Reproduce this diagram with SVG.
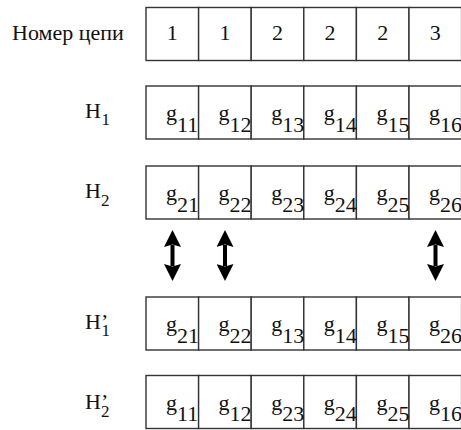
<svg xmlns="http://www.w3.org/2000/svg" width="461" height="430" viewBox="0 0 461 430">
<style>
.cell{fill:#fff;stroke:#333;stroke-width:1.4}
text{font-family:"Liberation Serif","Times New Roman",serif;font-size:22px;fill:#111}
.c{text-anchor:middle}
.sub{font-size:17px}
.arr{stroke:#000;stroke-width:4;fill:none}
</style>
<defs>
<marker id="ah" markerUnits="userSpaceOnUse" viewBox="0 0 17 17" markerWidth="17" markerHeight="17" refX="2" refY="8.5" orient="auto-start-reverse">
<path d="M0,0 L17,8.5 L0,17 L2.5,8.5 z" fill="#000"/>
</marker>
<g id="cells">
<rect class="cell" x="146" y="0" width="52.6" height="53"/>
<rect class="cell" x="198.6" y="0" width="52.6" height="53"/>
<rect class="cell" x="251.2" y="0" width="52.6" height="53"/>
<rect class="cell" x="303.8" y="0" width="52.6" height="53"/>
<rect class="cell" x="356.4" y="0" width="52.6" height="53"/>
<rect class="cell" x="409" y="0" width="52.6" height="53"/>
</g>
</defs>

<g id="row-chain">
<text x="12" y="39.5">Номер цепи</text>
<use href="#cells" y="7.5"/>
<text class="c" x="172.3" y="39.5">1</text>
<text class="c" x="224.9" y="39.5">1</text>
<text class="c" x="277.5" y="39.5">2</text>
<text class="c" x="330.1" y="39.5">2</text>
<text class="c" x="382.7" y="39.5">2</text>
<text class="c" x="435.3" y="39.5">3</text>
</g>

<g id="row-H1">
<text x="85" y="118.3">H<tspan class="sub" x="101.5" y="125.3">1</tspan></text>
<use href="#cells" y="86"/>
<text x="166" y="120.3">g<tspan dy="11.4">11</tspan></text>
<text x="218.6" y="120.3">g<tspan dy="11.4">12</tspan></text>
<text x="271.2" y="120.3">g<tspan dy="11.4">13</tspan></text>
<text x="323.8" y="120.3">g<tspan dy="11.4">14</tspan></text>
<text x="376.4" y="120.3">g<tspan dy="11.4">15</tspan></text>
<text x="429" y="120.3">g<tspan dy="11.4">16</tspan></text>
</g>

<g id="row-H2">
<text x="85" y="198.3">H<tspan class="sub" x="101" y="205.5">2</tspan></text>
<use href="#cells" y="166"/>
<text x="166" y="200.3">g<tspan dy="11.4">21</tspan></text>
<text x="218.6" y="200.3">g<tspan dy="11.4">22</tspan></text>
<text x="271.2" y="200.3">g<tspan dy="11.4">23</tspan></text>
<text x="323.8" y="200.3">g<tspan dy="11.4">24</tspan></text>
<text x="376.4" y="200.3">g<tspan dy="11.4">25</tspan></text>
<text x="429" y="200.3">g<tspan dy="11.4">26</tspan></text>
</g>

<g id="connectors">
<line class="arr" x1="172.5" y1="245" x2="172.5" y2="266" marker-start="url(#ah)" marker-end="url(#ah)"/>
<line class="arr" x1="225" y1="245" x2="225" y2="266" marker-start="url(#ah)" marker-end="url(#ah)"/>
<line class="arr" x1="435.5" y1="245" x2="435.5" y2="266" marker-start="url(#ah)" marker-end="url(#ah)"/>
</g>

<g id="row-H1p">
<text x="85" y="329.3">H<tspan x="101" y="329.3">’</tspan><tspan class="sub" x="101.5" y="336.3">1</tspan></text>
<use href="#cells" y="297"/>
<text x="166" y="331.3">g<tspan dy="11.4">21</tspan></text>
<text x="218.6" y="331.3">g<tspan dy="11.4">22</tspan></text>
<text x="271.2" y="331.3">g<tspan dy="11.4">13</tspan></text>
<text x="323.8" y="331.3">g<tspan dy="11.4">14</tspan></text>
<text x="376.4" y="331.3">g<tspan dy="11.4">15</tspan></text>
<text x="429" y="331.3">g<tspan dy="11.4">26</tspan></text>
</g>

<g id="row-H2p">
<text x="85" y="409.3">H<tspan x="101" y="409.3">’</tspan><tspan class="sub" x="101" y="416.5">2</tspan></text>
<use href="#cells" y="375.5"/>
<text x="166" y="410">g<tspan dy="11.4">11</tspan></text>
<text x="218.6" y="410">g<tspan dy="11.4">12</tspan></text>
<text x="271.2" y="410">g<tspan dy="11.4">23</tspan></text>
<text x="323.8" y="410">g<tspan dy="11.4">24</tspan></text>
<text x="376.4" y="410">g<tspan dy="11.4">25</tspan></text>
<text x="429" y="410">g<tspan dy="11.4">16</tspan></text>
</g>
</svg>
